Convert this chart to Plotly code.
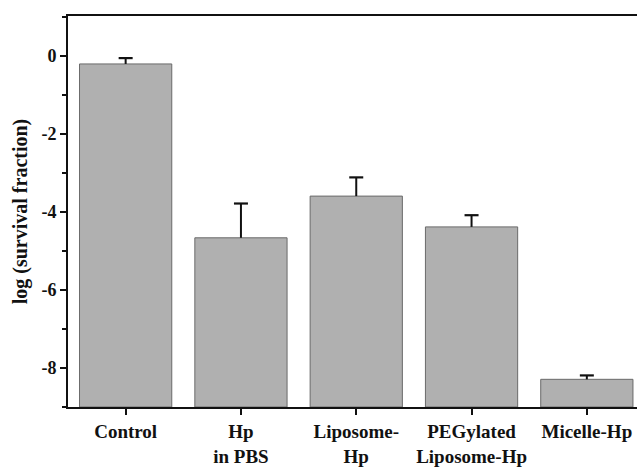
import plotly.graph_objects as go

# Treatment groups and measured log survival fractions (mean + SD)
categories = ["Control", "Hp<br>in PBS", "Liposome-<br>Hp", "PEGylated<br>Liposome-Hp", "Micelle-Hp"]
log_survival = [-0.20, -4.66, -3.59, -4.38, -8.29]
error_plus = [0.15, 0.88, 0.48, 0.30, 0.10]

y_ticks = [-8, -6, -4, -2, 0]
y_tick_labels = ["-8", "-6", "-4", "-2", "0"]
y_floor = -9  # bars rise from the bottom of the axis

FONT = "Liberation Serif, Times New Roman, serif"
INK = "#111111"

xs = list(range(len(categories)))

fig = go.Figure()

# Columns anchored at the axis floor, topping out at each mean value
fig.add_trace(
    go.Bar(
        x=xs,
        y=[v - y_floor for v in log_survival],
        base=y_floor,
        width=0.8,
        marker=dict(color="#b0b0b0", line=dict(color="#6a6a6a", width=1)),
        hoverinfo="skip",
    )
)

# Upper-only error stems rising from the top of each column
fig.add_trace(
    go.Scatter(
        x=xs,
        y=log_survival,
        mode="markers",
        marker=dict(size=0.1, color="rgba(0,0,0,0)"),
        error_y=dict(
            type="data",
            symmetric=False,
            array=error_plus,
            arrayminus=[0] * len(error_plus),
            color=INK,
            thickness=2,
            width=0,
        ),
        hoverinfo="skip",
    )
)

# Caps at the upper end of each error stem
fig.add_trace(
    go.Scatter(
        x=xs,
        y=[v + e for v, e in zip(log_survival, error_plus)],
        mode="markers",
        marker=dict(symbol="line-ew", size=10, line=dict(color=INK, width=2.2)),
        hoverinfo="skip",
    )
)

fig.update_layout(
    width=637,
    height=468,
    margin=dict(l=68, r=0, t=16, b=61),
    plot_bgcolor="white",
    paper_bgcolor="white",
    showlegend=False,
    font=dict(family=FONT, size=18, color=INK, weight="bold"),
)

fig.update_xaxes(
    range=[-0.5, 4.435],
    tickvals=xs,
    ticktext=categories,
    ticks="outside",
    ticklen=6,
    tickwidth=2,
    tickcolor=INK,
    showline=True,
    linewidth=2,
    linecolor=INK,
    mirror=True,
    showgrid=False,
    zeroline=False,
    tickfont=dict(family=FONT, size=19, color=INK, weight="bold"),
)

fig.update_yaxes(
    range=[y_floor, 1.03],
    tickvals=y_ticks,
    ticktext=y_tick_labels,
    ticks="outside",
    ticklen=6,
    tickwidth=2,
    tickcolor=INK,
    minor=dict(ticks="outside", ticklen=4, tickwidth=2, tickcolor=INK,
               dtick=1, tick0=0, showgrid=False),
    showline=True,
    linewidth=2,
    linecolor=INK,
    showgrid=False,
    zeroline=False,
    tickfont=dict(family=FONT, size=18, color=INK, weight="bold"),
    title=dict(
        text="log (survival fraction)",
        font=dict(family=FONT, size=20, color=INK, weight="bold"),
        standoff=8,
    ),
)

fig.write_html("out.html")
